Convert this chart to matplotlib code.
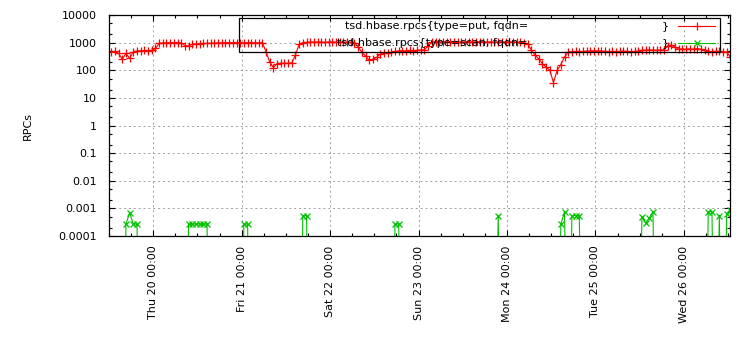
import numpy as np
import pandas as pd
import matplotlib
matplotlib.use("Agg")
import matplotlib.pyplot as plt
import matplotlib.dates as mdates
from matplotlib.ticker import LogLocator, FixedFormatter, FixedLocator, NullFormatter
from matplotlib.lines import Line2D
from matplotlib.patches import Rectangle

plt.rcParams['font.family'] = ['DejaVu Sans']

# hourly samples, starting Wed 19 12:36
times = pd.date_range('2013-06-19 12:36', periods=169, freq='h')

# tsd.hbase.rpcs{type=put}
put_rpcs = [470, 480, 410, 250, 410, 270, 470, 500, 510, 520, 510, 530, 620,
            940, 980, 990, 1000, 990, 1000, 980,
            780, 760,
            880, 900, 920, 930, 940, 950, 960, 980, 990, 1000, 990, 1000, 1010, 1000,
            990, 1000, 1010, 980, 990, 1000,
            470, 200, 124, 175, 180, 178, 180, 185, 360, 880, 1000,
            1020, 1050, 1040, 1060, 1050, 1030, 1050, 1060, 1040, 1050, 1030, 1040, 1020, 1000,
            700, 450, 330, 230, 250, 290, 390, 420, 430, 440, 480, 500, 510, 500, 520,
            510, 530, 540, 560,
            750, 1050,
            1080, 1060, 1050, 1070, 1080, 1060, 1050, 1040, 1060, 1070, 1050, 1060,
            1080, 1070, 1050, 1060, 1040, 1050, 1070, 1060, 1050, 1060, 1040, 1030,
            1000, 900, 550, 350, 260, 170, 130, 100, 36, 100, 160, 300, 460,
            470, 480, 470, 480, 490, 500, 510, 500, 490, 480, 470, 480, 470, 480, 490,
            480, 470, 480, 490,
            530, 540, 550, 540, 530, 540, 550,
            750, 820, 680,
            580, 600, 570, 590, 580, 610, 570, 560,
            480, 470, 490, 480, 470, 460,
            300]

# tsd.hbase.rpcs{type=scan} - only a few hours have values
scan_idx = [4, 5, 6, 7, 21, 22, 23, 24, 25, 26, 36, 37, 52, 53, 77, 78, 105,
            122, 123, 125, 126, 127, 144, 145, 146, 147, 162, 163, 165, 167, 168]
scan_val = [0.00027, 0.0007, 0.00027, 0.00027,
            0.00027, 0.00027, 0.00027, 0.00027, 0.00027, 0.00027,
            0.00027, 0.00027, 0.00055, 0.00055, 0.00027, 0.00027, 0.00055,
            0.00027, 0.00075, 0.00055, 0.00055, 0.00055,
            0.0005, 0.00029, 0.00045, 0.00075,
            0.00075, 0.00075, 0.00055, 0.00065, 0.0009]

ytick_vals = [0.0001, 0.001, 0.01, 0.1, 1, 10, 100, 1000, 10000]
ytick_labels = ['0.0001', '0.001', '0.01', '0.1', '1', '10', '100', '1000', '10000']

RED = '#ff0000'
GREEN = '#00c000'

W, H = 750, 350
fig = plt.figure(figsize=(7.5, 3.5), dpi=100)
ax = fig.add_axes([109 / W, 1 - 236 / H, (730 - 109) / W, (236 - 15) / H])

ax.plot(times, put_rpcs, color=RED, lw=0.8, marker='+', ms=6, mew=0.9)

scan_full = np.zeros(len(times))
scan_full[scan_idx] = scan_val
scan_line = np.where(scan_full > 0, scan_full, 1e-12)
ax.plot(times, scan_line, color=GREEN, lw=0.8)
ax.plot(times[scan_idx], scan_val, ls='none', color=GREEN, marker='x', ms=5, mew=0.9)

ax.set_yscale('log')
ax.set_ylim(0.0001, 10000)
ax.set_xlim(pd.Timestamp('2013-06-19 12:00'), pd.Timestamp('2013-06-26 12:30'))

ax.yaxis.set_major_locator(FixedLocator(ytick_vals))
ax.yaxis.set_major_formatter(FixedFormatter(ytick_labels))
ax.yaxis.set_minor_locator(LogLocator(base=10, subs=(2, 5)))
ax.yaxis.set_minor_formatter(NullFormatter())

ax.xaxis.set_major_locator(mdates.DayLocator())
ax.xaxis.set_major_formatter(mdates.DateFormatter('%a %d %H:%M'))
ax.xaxis.set_minor_locator(mdates.HourLocator(byhour=[6, 12, 18]))

ax.tick_params(which='both', direction='in', top=True, right=True, labelsize=8)
ax.tick_params(which='major', length=4.5, width=0.8)
ax.tick_params(which='minor', length=2.5, width=0.8)
ax.tick_params(axis='y', pad=9)
ax.tick_params(axis='x', pad=7)
for lab in ax.get_xticklabels():
    lab.set_rotation(90)

ax.grid(True, which='major', color='#a0a0a0', lw=0.7, ls=(0, (2, 3)))
for s in ax.spines.values():
    s.set_linewidth(0.9)

fig.text(28 / W, 1 - 126 / H, 'RPCs', rotation=90, ha='center', va='center', fontsize=8)

# key box (gnuplot style, not filled)
fig.add_artist(Rectangle((239 / W, 1 - 52 / H), (720 - 239) / W, (52 - 18) / H,
                         transform=fig.transFigure, fill=False, ec='black', lw=0.9))
rows = [('tsd.hbase.rpcs{type=put, fqdn=', RED, '+', 25.7),
        ('tsd.hbase.rpcs{type=scan, fqdn=', GREEN, 'x', 43.3)]
for label, col, mk, py in rows:
    fy = 1 - py / H
    fig.text(528 / W, fy, label, ha='right', va='center', fontsize=8)
    fig.text(665 / W, fy, '}', ha='center', va='center', fontsize=8)
    fig.add_artist(Line2D([678 / W, 715 / W], [fy, fy], transform=fig.transFigure,
                          color=col, lw=0.8))
    fig.add_artist(Line2D([697 / W], [fy], transform=fig.transFigure, color=col,
                          marker=mk, ms=6 if mk == '+' else 5, mew=0.9))

fig.savefig('out.png', dpi=100)
